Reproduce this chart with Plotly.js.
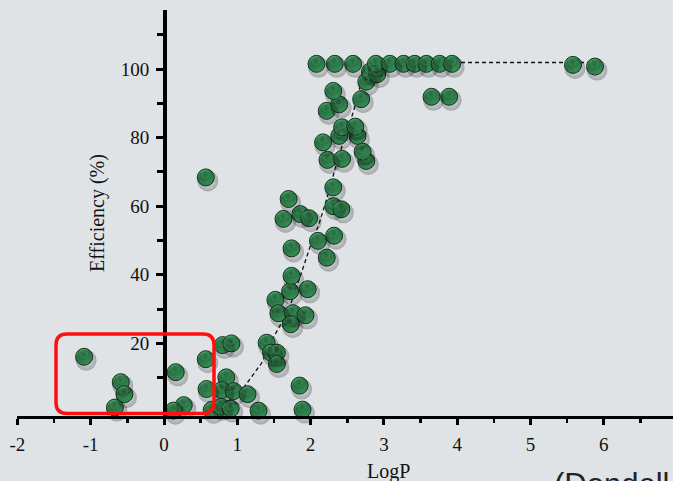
<!DOCTYPE html>
<html>
<head>
<meta charset="utf-8">
<script src="https://cdn.plot.ly/plotly-3.0.1.min.js"></script>
<style>html,body{margin:0;padding:0;background:#dfe3e6;}#chart{width:673px;height:481px;}</style>
</head>
<body>
<div id="chart"></div>
<script>
// ---- data ----
const logP = [
  -1.09, -0.59, -0.54, -0.67, 0.16, 0.27, 0.13, 0.57, 0.58, 0.65,
  0.80, 0.92, 0.85, 0.79, 0.95, 0.78, 0.91, 1.14, 1.29, 1.40,
  1.46, 1.54, 1.54, 1.85, 1.89, 1.52, 1.56, 1.76, 1.73, 1.93,
  1.72, 1.96, 1.74, 1.74, 2.10, 2.32, 2.22, 1.63, 1.70, 1.86,
  1.98, 2.31, 2.42, 2.31, 2.23, 2.43, 2.76, 2.71, 2.17, 2.39,
  2.64, 2.43, 2.61, 2.22, 2.39, 2.31, 2.69, 2.76, 2.81, 2.91,
  2.08, 2.33, 2.58, 2.89, 3.08, 3.27, 3.42, 3.58, 3.76, 3.93,
  5.58, 5.88, 3.65, 3.89, 0.57
];
const efficiency = [
  16.1, 8.7, 5.2, 1.3, 11.6, 2.0, 0.4, 15.4, 6.7, 0.6,
  19.5, 20.0, 10.1, 6.4, 6.1, 1.5, 1.0, 5.2, 0.4, 20.2,
  17.3, 17.3, 14.0, 7.7, 0.7, 32.7, 28.8, 28.8, 25.6, 28.2,
  35.2, 35.8, 39.7, 47.7, 49.9, 51.4, 45.0, 56.3, 62.1, 57.7,
  56.5, 60.0, 59.1, 65.5, 73.5, 73.8, 73.2, 75.9, 78.6, 80.5,
  80.5, 83.0, 83.2, 87.8, 89.7, 93.6, 91.2, 96.3, 99.2, 98.5,
  101.5, 101.5, 101.5, 101.5, 101.5, 101.5, 101.5, 101.5, 101.5, 101.5,
  101.2, 100.7, 91.9, 91.9, 68.4
];
// fitted trend (dashed curve)
const fitLogP = [0.62, 0.85, 1.10, 1.33, 1.51, 1.70, 1.88, 1.99, 2.11, 2.23, 2.33, 2.45, 2.58, 2.68, 2.74, 2.85, 3.50, 5.90];
const fitEff  = [0.0, 2.5, 7.5, 14.2, 22.4, 29.7, 40.9, 48.0, 54.5, 62.8, 70.6, 79.0, 87.3, 95.0, 99.7, 101.7, 101.9, 101.9];

const xTickVals = [-2, -1, 0, 1, 2, 3, 4, 5, 6];
const xTickText = ['-2', '-1', '0', '1', '2', '3', '4', '5', '6'];
const xMinorVals = [-1.5, -0.5, 0.5, 1.5, 2.5, 3.5, 4.5, 5.5, 6.5];
const yTickVals = [20, 40, 60, 80, 100];
const yTickText = ['20', '40', '60', '80', '100'];
const yMinorVals = [10, 30, 50, 70, 90, 110];

// ---- geometry ----
const W = 673, H = 481;
const mL = 17, mR = 0, mT = 10, mB = 65;
const pxPerX = 73.3, originPx = 164;      // x=0 at pixel 164
const pxPerY = 3.43, zeroPy = 412;        // y=0 at pixel 412
const xMin = (mL - originPx) / pxPerX;
const xMax = (W - mR - originPx) / pxPerX;
const yMax = (zeroPy - mT) / pxPerY;
const yMin = (zeroPy - (H - mB)) / pxPerY;
const yPos = (0 - xMin) / (xMax - xMin);

// shifted overlay ranges for drop shadow / highlight
const sx = 2 / pxPerX, sy = 3.5 / pxPerY, hy = 3 / pxPerY, hx = 0.5 / pxPerX;

const serif = 'Liberation Serif, Times New Roman, serif';

const shadow = {
  x: logP, y: efficiency, type: 'scatter', mode: 'markers',
  xaxis: 'x2', yaxis: 'y2', hoverinfo: 'skip', cliponaxis: false,
  marker: { size: 21, color: 'rgba(0,0,0,0.26)', gradient: { type: 'radial', color: 'rgba(0,0,0,0)' }, line: { width: 0 } }
};
const fit = {
  x: fitLogP, y: fitEff, type: 'scatter', mode: 'lines', hoverinfo: 'skip',
  line: { color: '#111', width: 1.3, dash: '4px,3px' }
};
const points = {
  x: logP, y: efficiency, type: 'scatter', mode: 'markers', cliponaxis: false,
  marker: { size: 17, color: '#3c9c60', gradient: { type: 'radial', color: '#24713f' }, line: { color: '#18361f', width: 1 } }
};
const highlight = {
  x: logP, y: efficiency, type: 'scatter', mode: 'markers',
  xaxis: 'x3', yaxis: 'y3', hoverinfo: 'skip', cliponaxis: false,
  marker: { size: 9, color: 'rgba(120,205,150,0.22)', gradient: { type: 'radial', color: 'rgba(120,205,150,0)' }, line: { width: 0 } }
};

// red rounded highlight box (annotation)
const bx0 = (56 - originPx) / pxPerX, bx1 = (214 - originPx) / pxPerX;
const by1 = (zeroPy - 334) / pxPerY, by0 = (zeroPy - 413.5) / pxPerY;
const rx = 11 / pxPerX, ry = 11 / pxPerY;
const boxPath = `M ${bx0 + rx},${by1} L ${bx1 - rx},${by1} Q ${bx1},${by1} ${bx1},${by1 - ry} ` +
  `L ${bx1},${by0 + ry} Q ${bx1},${by0} ${bx1 - rx},${by0} L ${bx0 + rx},${by0} Q ${bx0},${by0} ${bx0},${by0 + ry} ` +
  `L ${bx0},${by1 - ry} Q ${bx0},${by1} ${bx0 + rx},${by1} Z`;

const layout = {
  width: W, height: H,
  margin: { l: mL, r: mR, t: mT, b: mB, pad: 0 },
  paper_bgcolor: '#dfe3e6', plot_bgcolor: '#dfe3e6',
  showlegend: false,
  xaxis: {
    range: [xMin, xMax], showgrid: false, zeroline: false,
    showline: true, linecolor: '#000', linewidth: 3,
    ticks: 'outside', ticklen: 6, tickwidth: 3, tickcolor: '#000',
    tickmode: 'array', tickvals: xTickVals, ticktext: xTickText,
    tickfont: { family: serif, size: 19, color: '#111' },
    ticklabelstandoff: 3,
    minor: { tickmode: 'array', tickvals: xMinorVals, ticklen: 4, tickwidth: 2.5, tickcolor: '#000' },
    fixedrange: true
  },
  yaxis: {
    range: [yMin, yMax], anchor: 'free', position: yPos,
    showgrid: false, zeroline: false,
    showline: true, linecolor: '#000', linewidth: 3.5,
    ticks: 'outside', ticklen: 7, tickwidth: 3, tickcolor: '#000',
    tickmode: 'array', tickvals: yTickVals, ticktext: yTickText,
    tickfont: { family: serif, size: 19, color: '#111' },
    ticklabelstandoff: 3,
    minor: { tickmode: 'array', tickvals: yMinorVals, ticklen: 6, tickwidth: 3, tickcolor: '#000' },
    title: { text: 'Efficiency (%)', font: { family: serif, size: 20, color: '#111' }, standoff: 9 },
    fixedrange: true
  },
  xaxis2: { overlaying: 'x', range: [xMin - sx, xMax - sx], visible: false, fixedrange: true },
  yaxis2: { overlaying: 'y', range: [yMin + sy, yMax + sy], visible: false, fixedrange: true },
  xaxis3: { overlaying: 'x', range: [xMin + hx, xMax + hx], visible: false, fixedrange: true },
  yaxis3: { overlaying: 'y', range: [yMin - hy, yMax - hy], visible: false, fixedrange: true },
  shapes: [
    { type: 'path', xref: 'x', yref: 'y', path: boxPath, layer: 'above',
      line: { color: '#ff0f0f', width: 3.5 }, fillcolor: 'rgba(0,0,0,0)' }
  ],
  annotations: [
    { text: 'LogP', xref: 'x', x: (388 - originPx) / pxPerX, yref: 'paper', y: 0, yanchor: 'top', yshift: -42,
      showarrow: false, font: { family: serif, size: 20, color: '#111' } },
    { text: '(Dondell', xref: 'paper', x: (552 - mL) / (W - mL - mR), xanchor: 'left', yref: 'paper', y: 0, yanchor: 'top', yshift: -49,
      showarrow: false, font: { family: 'Liberation Sans, Arial, sans-serif', size: 31, color: '#222' } }
  ]
};

Plotly.newPlot('chart', [shadow, fit, points, highlight], layout, { displayModeBar: false, staticPlot: true });
</script>
</body>
</html>
